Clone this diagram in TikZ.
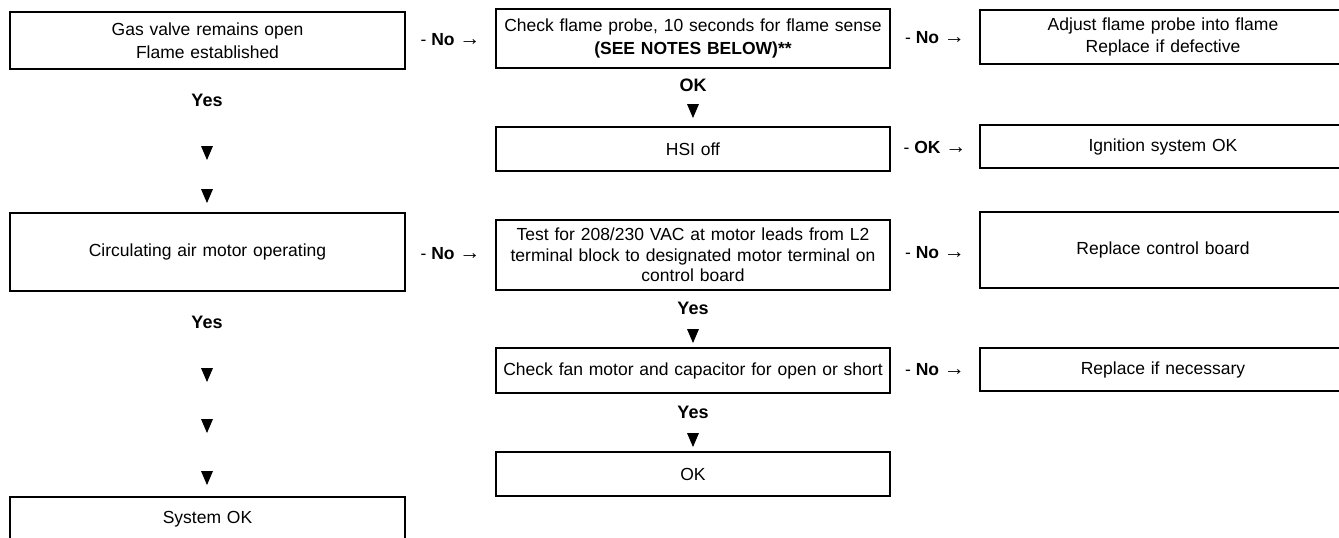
\documentclass[tikz,border=0pt]{standalone}
\usepackage{fontspec}
\setmainfont{Liberation Sans}
\usetikzlibrary{shapes.geometric,calc}
\begin{document}
\begin{tikzpicture}[x=1pt,y=-1pt,
  box/.style={draw, line width=1.9pt, inner sep=0pt, align=center,
    font=\fontsize{17.5}{22.5}\selectfont},
  colA/.style={box, minimum width=395, text width=390},
  colB/.style={box, minimum width=394, text width=380},
  colC/.style={box, minimum width=366, text width=360},
  lbl/.style={inner sep=0pt, font=\fontsize{18}{21}\selectfont\bfseries},
  arr/.style={inner sep=0pt, font=\fontsize{17.5}{21}\selectfont},
  tri/.style={isosceles triangle, isosceles triangle stretches, shape border rotate=270,
    minimum width=12, minimum height=14, inner sep=0pt, fill=black, draw=none}
]
\newcommand{\rarr}{{\fontsize{21}{21}\selectfont →}}
\clip (0,0) rectangle (1339,538);
\fill[white] (0,0) rectangle (1339,538);

% left column
\node[colA, minimum height=57] (a) at (207.5,40.5) {Gas valve remains open\\Flame established};
\node[lbl] (ay) at (207,100) {Yes};
\node[tri] (at1) at (207,150) {};
\node[tri] (at2) at (207,193) {};
\node[colA, minimum height=78] (circ) at (207.5,252) {Circulating air motor operating};
\node[lbl] (cy) at (207,322) {Yes};
\node[tri] (ct1) at (207,372) {};
\node[tri] (ct2) at (207,423) {};
\node[tri] (ct3) at (207,475) {};
\node[colA, minimum height=45] (sys) at (207.5,519.5) {System OK};

% middle column
\node[colB, minimum height=59] (b) at (693,38.5) {Check flame probe, 10 seconds for flame sense\\\textbf{(SEE NOTES BELOW)**}\vphantom{g}\\[-6pt]};
\node[lbl] (bok) at (693,85) {OK};
\node[tri] (bt) at (693,108) {};
\node[colB, minimum height=44] (hsi) at (693,149) {HSI off};
\node[colB, minimum height=70, font=\fontsize{17.5}{20.5}\selectfont] (test) at (693,255) {Test for 208/230 VAC at motor leads from L2\\terminal block to designated motor terminal on\\control board};
\node[lbl] (ty) at (693,308) {Yes};
\node[tri] (tt) at (693,333) {};
\node[colB, minimum height=45] (fan) at (693,370.5) {Check fan motor and capacitor for open or short};
\node[lbl] (fy) at (693,412) {Yes};
\node[tri] (ft) at (693,437) {};
\node[colB, minimum height=44] (ok) at (693,474) {OK};

% right column
\node[colC, minimum height=54] (c) at (1163,37) {Adjust flame probe into flame\\Replace if defective};
\node[colC, minimum height=43] (ign) at (1163,146.5) {Ignition system OK};
\node[colC, minimum height=76] (rcb) at (1163,250) {Replace control board};
\node[colC, minimum height=43] (rn) at (1163,369.5) {Replace if necessary};

% arrow labels
\node[arr] (l1) at ($(a.east)!0.5!(b.west)$) {- \textbf{No} \rarr};
\node[arr] (l2) at ($(b.east)!0.5!(c.west)$) {- \textbf{No} \rarr};
\node[arr] (l3) at ($(hsi.east)!0.5!(ign.west)$) {- \textbf{OK} \rarr};
\node[arr] (l4) at ($(circ.east)!0.5!(test.west)$) {- \textbf{No} \rarr};
\node[arr] (l5) at ($(test.east)!0.5!(rcb.west)$) {- \textbf{No} \rarr};
\node[arr] (l6) at ($(fan.east)!0.5!(rn.west)$) {- \textbf{No} \rarr};
\end{tikzpicture}
\end{document}
